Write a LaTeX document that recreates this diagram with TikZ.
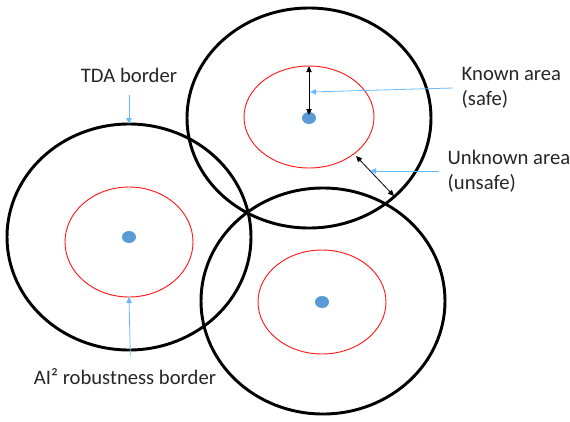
\documentclass[tikz,border=0pt]{standalone}
\usepackage{fontspec}
\setmainfont{Carlito}
\usetikzlibrary{
    arrows.meta,
    positioning,
    calc
}
\tikzset{
    % Colors
    pointer color/.style={blue!45!cyan!60!white},
    dot color/.style={fill={rgb,255:red,91;green,155;blue,213}},
    %
    % Borders
    tda border/.style={black,line width=2.2pt},
    robust border/.style={red!90!white,line width=0.7pt},
    centre dot/.style={dot color,draw=none},
    %
    % Arrows
    arrow tip/.tip={Triangle[length=4.5pt,width=4pt]},
    arr/.style={->,>={arrow tip}},
    pointer/.style={arr,pointer color,line width=0.6pt},
    span marker/.style={<->,>={arrow tip},line width=0.6pt},
}
\tikzstyle{every node}=[font=\fontsize{15.5}{19}\selectfont,text=black!85]

\begin{document}
\begin{tikzpicture}[x=0.75pt,y=-0.75pt]
        \useasboundingbox (0,0) rectangle (570,421);
        % outer borders
        \draw[tda border] (309,118) ellipse [x radius=122, y radius=110];
        \draw[tda border] (129,237) ellipse [x radius=122, y radius=113];
        \draw[tda border] (323,301) ellipse [x radius=122, y radius=113];
        % inner borders
        \draw[robust border] (309,117) ellipse [x radius=65, y radius=51];
        \draw[robust border] (129,242) ellipse [x radius=64, y radius=55];
        \draw[robust border] (322,302) ellipse [x radius=64, y radius=52];
        % centres
        \fill[centre dot] (309,118) ellipse [x radius=7, y radius=6];
        \fill[centre dot] (129,237) ellipse [x radius=7, y radius=6];
        \fill[centre dot] (322,302) ellipse [x radius=7, y radius=6];
        %
        \coordinate (top red) at (309,66);
        \coordinate (top dot) at (309,115);
        \coordinate (red edge) at (356,156);
        \coordinate (black edge) at (394,196);
        \coordinate (left black top) at (129,124);
        \coordinate (left red bottom) at (129,297);
        \coordinate (known tip) at (310,92);
        \coordinate (unknown tip) at (370,171);
        %
        \node (tda) at (129,75) {TDA border};
        \node (robust) at (125,377) {AI² robustness border};
        \node[align=left,anchor=west] (known) at (457,88) {Known area\\(safe)};
        \node[align=left,anchor=west] (unknown) at (443,171) {Unknown area\\(unsafe)};
        %
        \draw[span marker] (top red) -- (top dot);
        \draw[span marker] (red edge) -- (black edge);
        \draw[pointer] (tda.south) ++(0,-6pt) -- (left black top);
        \draw[pointer] (robust.north) ++(4pt,6pt) -- (left red bottom);
        \draw[pointer] (known.west) ++(-3pt,0) -- (known tip);
        \draw[pointer] (unknown.west) ++(-3pt,0) -- (unknown tip);
\end{tikzpicture}
\end{document}
